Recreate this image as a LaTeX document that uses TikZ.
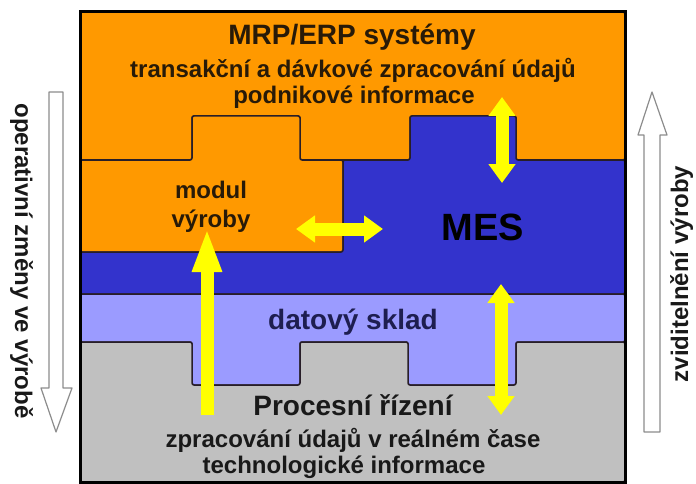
\documentclass[tikz,border=0pt]{standalone}
\usepackage{fontspec}
\setmainfont{Liberation Sans}
\usetikzlibrary{arrows.meta}
\definecolor{orangeA}{RGB}{255,153,0}
\definecolor{mesblue}{RGB}{51,51,204}
\definecolor{skladC}{RGB}{155,155,255}
\definecolor{grayC}{RGB}{192,192,192}
\definecolor{yel}{RGB}{255,255,0}
\definecolor{edgeC}{RGB}{40,30,40}
\definecolor{txtO}{RGB}{40,26,8}
\definecolor{txtS}{RGB}{30,30,80}
\definecolor{txtG}{RGB}{25,25,25}
\definecolor{sideC}{RGB}{140,140,140}
\newcommand{\fsz}[1]{\fontsize{#1}{#1}\selectfont}
\begin{document}
\begin{tikzpicture}[x=1pt,y=-1pt,
  region/.style={draw=edgeC, line width=1.5pt, rounded corners=2pt},
  dbl/.style={draw=yel, line width=13pt, {Triangle[width=26pt,length=19pt]}-{Triangle[width=26pt,length=19pt]}},
  sgl/.style={draw=yel, line width=13pt, -{Triangle[width=27pt,length=44pt]}},
  side/.style={draw=sideC, line width=1.2pt, fill=white, line join=round},
  lbl/.style={anchor=base, inner sep=0pt, font=\bfseries\fsz{24}},
  sidelbl/.style={anchor=base, inner sep=0pt, text=txtG, font=\bfseries\fsz{24}}]
\useasboundingbox (0,0) rectangle (696,484);
\fill[white] (0,0) rectangle (696,484);
% regions
\draw[region, fill=orangeA] (80,12) -- (625,12) -- (625,160) -- (516,160) -- (516,116) -- (410,116) -- (410,160) -- (300,160) -- (300,116) -- (192,116) -- (192,160) -- (80,160) -- cycle;
\draw[region, fill=orangeA] (80,160) -- (192,160) -- (192,116) -- (300,116) -- (300,160) -- (343,160) -- (343,252) -- (80,252) -- cycle;
\draw[region, fill=mesblue] (343,160) -- (410,160) -- (410,116) -- (516,116) -- (516,160) -- (625,160) -- (625,294) -- (80,294) -- (80,252) -- (343,252) -- cycle;
\draw[region, fill=skladC] (80,294) -- (625,294) -- (625,342) -- (516,342) -- (516,385) -- (408,385) -- (408,342) -- (300,342) -- (300,385) -- (192,385) -- (192,342) -- (80,342) -- cycle;
\draw[region, fill=grayC] (80,342) -- (192,342) -- (192,385) -- (300,385) -- (300,342) -- (408,342) -- (408,385) -- (516,385) -- (516,342) -- (625,342) -- (625,482) -- (80,482) -- cycle;
\draw[line width=3pt, black] (80,12) rectangle (625,482);
% side arrows
\draw[side] (49,92) -- (63,92) -- (63,388) -- (72,388) -- (56,432) -- (41,388) -- (49,388) -- cycle;
\draw[side] (644,432) -- (660,432) -- (660,135) -- (667,135) -- (652,92) -- (638,135) -- (644,135) -- cycle;
% text
\node[lbl, text=txtO, font=\bfseries\fsz{28}] (mrp) at (352,45) {MRP/ERP systémy};
\node[lbl, text=txtO] (mrp2) at (353,78) {transakční a dávkové zpracování údajů};
\node[lbl, text=txtO] (mrp3) at (354,104) {podnikové informace};
\node[lbl, text=txtO] (modul) at (211,198) {modul};
\node[lbl, text=txtO] (vyroby) at (211,227) {výroby};
\node[lbl, text=black, font=\bfseries\fsz{38}] (mes) at (483,240) {MES};
\node[lbl, text=txtS, font=\bfseries\fsz{28}] (sklad) at (353,329) {datový sklad};
\node[lbl, text=txtG, font=\bfseries\fsz{28}] (proc) at (353,415) {Procesní řízení};
\node[lbl, text=txtG] (proc2) at (353,447) {zpracování údajů v reálném čase};
\node[lbl, text=txtG] (proc3) at (344,473) {technologické informace};
\node[sidelbl, rotate=-90] (left) at (15,261) {operativní změny ve výrobě};
\node[sidelbl, rotate=90] (right) at (688,274) {zviditelnění výroby};
% yellow arrows
\coordinate (a1s) at (502,97); \coordinate (a1e) at (502,183);
\coordinate (a2s) at (296,229); \coordinate (a2e) at (383,229);
\coordinate (a3s) at (207,415); \coordinate (a3e) at (207,228);
\coordinate (a4s) at (501,284); \coordinate (a4e) at (501,415);
\draw[dbl] (a1s) -- (a1e);
\draw[dbl] (a2s) -- (a2e);
\draw[sgl] (a3s) -- (a3e);
\draw[dbl] (a4s) -- (a4e);
\end{tikzpicture}
\end{document}
